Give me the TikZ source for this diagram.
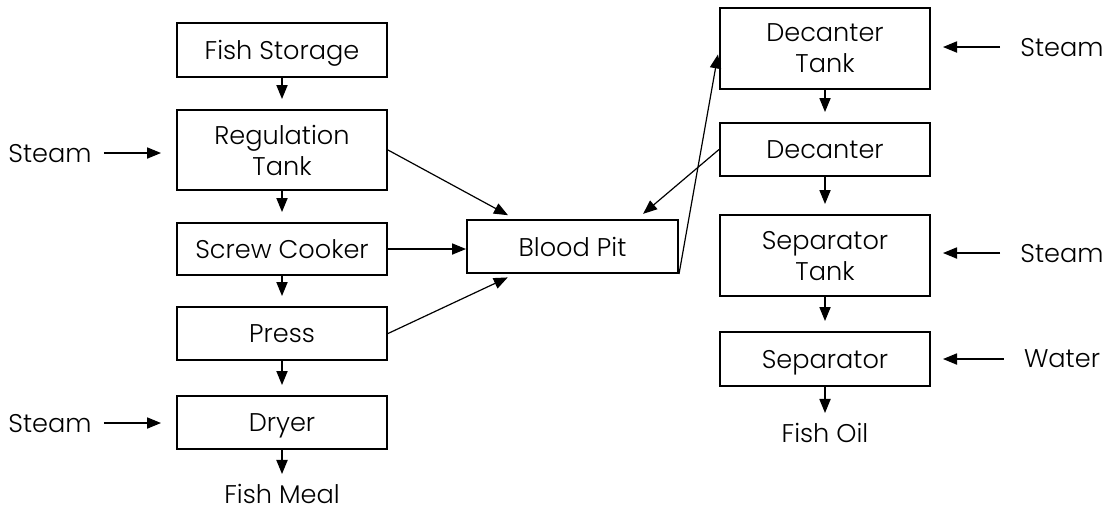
\documentclass[tikz,border=0pt]{standalone}
\usepackage{fontspec}
\setmainfont{Poppins Light}
\usetikzlibrary{arrows.meta,calc}
\tikzset{
  unitbox/.style={draw,line width=1pt,minimum width=105pt,align=center,inner sep=0pt,
    text depth=0pt,font=\fontsize{12.8}{15.5}\selectfont},
  flow/.style={line width=0.6pt,-{Triangle[length=7pt,width=5.6pt]}},
  feed/.style={font=\fontsize{12.8}{15.5}\selectfont,inner sep=0pt,text depth=0pt}
}
\begin{document}
\begin{tikzpicture}[x=0.5pt,y=-0.5pt]
\useasboundingbox (0,0) rectangle (1106,511);
\node[unitbox,minimum height=27pt] (storage) at (282,50) {Fish Storage};
\node[unitbox,minimum height=40pt] (regtank) at (282,150) {Regulation\\Tank};
\node[unitbox,minimum height=26pt] (cooker) at (282,249) {Screw Cooker};
\node[unitbox,minimum height=26.5pt] (press) at (282,333.5) {Press};
\node[unitbox,minimum height=26.5pt] (dryer) at (282,422.5) {Dryer};
\node[feed] (meal) at (282,494) {Fish Meal};
\node[feed] (steamA) at (50,153) {Steam};
\node[feed] (steamB) at (50,423) {Steam};
\node[unitbox,minimum width=105.5pt,minimum height=26.5pt] (bloodpit) at (572.5,246.5) {Blood Pit};
\node[unitbox,minimum height=40.5pt] (dectank) at (825,48.5) {Decanter\\Tank};
\node[unitbox,minimum height=26.5pt] (decanter) at (825,149.5) {Decanter};
\node[unitbox,minimum height=40.5pt] (septank) at (825,255.5) {Separator\\Tank};
\node[unitbox,minimum height=27pt] (separator) at (825,359) {Separator};
\node[feed] (oil) at (825,433) {Fish Oil};
\node[feed] (steamC) at (1062,47) {Steam};
\node[feed] (steamD) at (1062,253) {Steam};
\node[feed] (water) at (1062,359) {Water};

\draw[flow,shorten >=5pt] (storage) -- (regtank);
\draw[flow,shorten >=5pt] (regtank) -- (cooker);
\draw[flow,shorten >=5pt] (cooker) -- (press);
\draw[flow,shorten >=5pt] (press) -- (dryer);
\draw[flow,shorten >=5pt] (dryer) -- (meal);
\draw[flow,shorten <=6pt,shorten >=7.5pt] (steamA.east) -- (regtank.west |- steamA);
\draw[flow,shorten <=6pt,shorten >=7.5pt] (steamB.east) -- (dryer.west |- steamB);

\draw[flow,shorten >=4pt] (regtank.east) -- ($(bloodpit.north west)+(49,0)$);
\draw[flow] (cooker.east) -- (cooker.east -| bloodpit.west);
\draw[flow,shorten >=4pt] (press.east) -- ($(bloodpit.south west)+(49,0)$);
\draw[flow,shorten >=4pt] (decanter.west) -- ($(bloodpit.north east)+(-42,0)$);
\draw[flow,shorten >=3pt] (bloodpit.south east) -- (dectank.west);

\draw[flow,shorten >=5pt] (dectank) -- (decanter);
\draw[flow,shorten >=5pt] (decanter) -- (septank);
\draw[flow,shorten >=5pt] (septank) -- (separator);
\draw[flow,shorten >=5pt] (separator) -- (oil);
\draw[flow,shorten <=10pt,shorten >=6pt] (steamC.west) -- (dectank.east |- steamC);
\draw[flow,shorten <=10pt,shorten >=6pt] (steamD.west) -- (septank.east |- steamD);
\draw[flow,shorten <=10pt,shorten >=6pt] (water.west) -- (separator.east |- water);
\end{tikzpicture}
\end{document}
